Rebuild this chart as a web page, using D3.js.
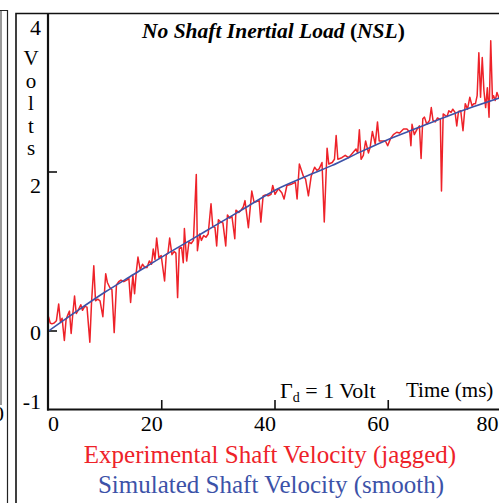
<!DOCTYPE html>
<html>
<head>
<meta charset="utf-8">
<script src="https://cdn.jsdelivr.net/npm/d3@7/dist/d3.min.js"></script>
<style>
html,body{margin:0;padding:0;background:#fff;}
svg{display:block;}
text{font-family:"Liberation Serif","Times New Roman",serif;}
</style>
</head>
<body>
<svg id="chart" width="499" height="503"></svg>
<script>
// ---- data ----
const timeTicks = [0, 20, 40, 60, 80];
const voltTicks = [4, 2, 0, -1];
const voltTickMarks = [2, 0];
const titleMain = "No Shaft Inertial Load ";
const titleAbbr = "NSL";
const yLabelLetters = ["V", "o", "l", "t", "s"];
const legendLines = ["Experimental Shaft Velocity (jagged)", "Simulated Shaft Velocity (smooth)"];

const simTime  = [0, 5, 10, 15, 20, 25, 30, 35, 40, 45, 50, 55, 60, 65, 70, 75, 80];
const simVolts = [0, 0.25, 0.49, 0.71, 0.93, 1.14, 1.35, 1.56, 1.77, 1.93, 2.08, 2.25, 2.41, 2.55, 2.69, 2.82, 2.94];

const expTime = [
0.0,0.3,0.6,1.0,1.4,1.8,2.1,2.4,2.8,3.1,3.4,3.7,4.0,4.3,4.6,4.9,5.3,5.7,6.0,6.4,6.8,7.3,7.6,8.0,8.3,8.7,9.1,9.6,
10.1,10.4,10.8,11.2,11.6,12.0,12.4,12.8,13.3,13.8,14.2,14.5,14.9,15.2,15.5,15.8,16.2,16.6,17.0,17.4,17.8,18.2,18.5,18.8,19.1,19.5,19.9,
20.5,20.8,21.1,21.4,21.8,22.2,22.5,22.8,23.1,23.5,23.8,24.0,24.4,24.8,25.2,25.6,26.1,26.3,26.7,27.0,27.4,27.8,28.2,28.7,29.0,29.4,29.7,
30.0,30.4,30.8,31.3,31.6,32.0,32.4,32.9,33.1,33.6,34.0,34.4,34.7,35.3,35.9,36.3,36.8,37.2,37.5,37.9,38.3,38.8,39.3,39.6,
40.0,40.6,41.2,41.6,42.1,43.0,43.6,43.9,44.3,45.0,45.4,45.9,46.4,47.0,47.4,47.8,48.3,48.7,49.2,49.5,
50.1,50.5,50.8,51.1,51.8,52.4,53.0,53.6,54.3,54.6,54.9,55.2,55.6,56.0,56.5,56.8,57.2,57.7,58.1,58.4,58.9,59.5,59.9,
60.4,60.9,61.5,62.0,62.7,63.3,63.8,64.0,64.2,64.6,65.1,65.5,65.8,66.1,66.4,66.8,67.3,67.6,67.9,68.3,68.7,69.2,69.4,69.7,
70.1,70.4,70.7,71.1,71.4,71.8,72.1,72.4,72.8,73.2,73.6,74.0,74.4,74.8,75.1,75.4,75.7,76.0,76.3,76.6,76.9,77.2,77.5,77.8,78.1,78.4,78.6,78.9,79.2,79.6
];
const expVolts = [
0.18,0.10,0.09,0.10,0.13,0.34,0.12,0.16,-0.12,0.14,0.20,0.25,-0.03,0.22,0.44,0.22,0.27,0.33,0.26,0.31,0.30,-0.14,0.36,0.82,0.38,0.40,0.38,0.18,
0.72,0.61,0.55,0.52,-0.02,0.58,0.62,0.64,0.62,0.64,0.66,0.36,0.70,0.47,0.74,0.93,0.77,0.84,0.80,0.80,0.88,0.84,1.03,0.90,1.17,0.92,0.95,
0.63,0.96,0.98,1.17,0.96,1.00,0.98,0.42,1.04,1.05,0.86,1.29,0.88,1.12,1.10,1.14,1.97,1.01,1.22,1.14,1.20,1.18,1.22,1.60,1.32,1.30,1.07,
1.40,1.37,1.36,1.07,1.46,1.42,1.44,1.16,1.52,1.49,1.52,1.56,1.64,1.30,1.76,1.62,1.63,1.64,1.37,1.70,1.71,1.70,1.72,1.83,
1.72,1.79,1.74,1.66,1.83,1.85,1.87,1.66,2.10,1.95,1.91,1.70,1.95,2.06,2.02,2.04,2.12,1.37,2.30,2.10,
2.12,2.16,2.46,2.16,2.18,2.21,2.18,2.23,2.29,2.24,2.53,2.16,2.21,2.39,2.24,2.31,2.51,2.35,2.63,2.39,2.39,2.39,2.33,
2.42,2.47,2.50,2.49,2.54,2.54,2.50,2.33,2.60,2.47,2.54,2.58,2.17,2.67,2.69,2.60,2.65,2.81,2.65,2.63,2.68,2.66,1.76,2.73,
2.71,2.70,2.77,2.75,2.79,2.75,2.58,2.76,2.77,2.52,2.86,2.79,2.94,2.83,2.86,2.86,2.96,3.50,2.94,3.44,3.02,2.81,3.06,2.69,3.65,2.92,2.96,2.90,3.00,2.92
];

// ---- drawing ----
const svg = d3.select("#chart");
const x = d3.scaleLinear().domain([0, 80]).range([48.5, 501.5]);
const y = d3.scaleLinear().domain([-1, 4]).range([410.5, 13]);
const RED = "#ee2229", BLUE = "#3c52a8";

// neighbouring-panel remnants and frame
svg.append("line").attr("x1", 1).attr("x2", 1).attr("y1", 10).attr("y2", 405).attr("stroke", "#555").attr("stroke-width", 1.2);
svg.append("path").attr("d", "M0,10.5H7.5V503").attr("fill", "none").attr("stroke", "#222").attr("stroke-width", 1.2);
svg.append("text").attr("x", -7).attr("y", 421).attr("font-size", 22).text("0");
svg.append("path").attr("d", "M16,503V13.5H499").attr("fill", "none").attr("stroke", "#111").attr("stroke-width", 1.6);

// axes lines
svg.append("line").attr("x1", 48).attr("x2", 48).attr("y1", 14).attr("y2", 410.5).attr("stroke", "#111").attr("stroke-width", 2.2);
svg.append("line").attr("x1", 47).attr("x2", 499).attr("y1", 409.5).attr("y2", 409.5).attr("stroke", "#111").attr("stroke-width", 2.2);

// x ticks (inside, pointing up)
svg.selectAll(".xt").data(timeTicks.filter(d => d > 0 && d < 80)).enter().append("line")
  .attr("x1", d => x(d)).attr("x2", d => x(d)).attr("y1", 409).attr("y2", 400)
  .attr("stroke", "#111").attr("stroke-width", 1.6);
svg.selectAll(".xl").data(timeTicks).enter().append("text")
  .attr("x", d => d === 0 ? x(d) - 0.5 : Math.min(x(d) + 1, 498.5))
  .attr("y", 431).attr("font-size", 22)
  .attr("text-anchor", d => d === 0 ? "start" : "end")
  .text(d => d);

// y ticks (inside, pointing right)
svg.selectAll(".yt").data(voltTickMarks).enter().append("line")
  .attr("x1", 48).attr("x2", 57).attr("y1", d => y(d)).attr("y2", d => y(d))
  .attr("stroke", "#111").attr("stroke-width", 1.6);
const yLabDy = {"4": 22, "2": 21, "0": 9, "-1": -2};
svg.selectAll(".yl").data(voltTicks).enter().append("text")
  .attr("x", 41).attr("y", d => y(d) + yLabDy[d]).attr("font-size", 22)
  .attr("text-anchor", "end").text(d => d);

// vertical "Volts"
svg.selectAll(".vl").data(yLabelLetters).enter().append("text")
  .attr("x", 31).attr("y", (d, i) => 65 + i * 22.5).attr("font-size", 21)
  .attr("text-anchor", "middle").text(d => d);

// data lines
const clip = svg.append("clipPath").attr("id", "clip").append("rect")
  .attr("x", 49).attr("y", 14).attr("width", 450).attr("height", 395);
const expData = expTime.map((t, i) => [t, expVolts[i]]);
const simData = simTime.map((t, i) => [t, simVolts[i]]);
const line = d3.line().x(d => x(d[0])).y(d => y(d[1]));
svg.append("path").datum(expData).attr("d", line).attr("fill", "none")
  .attr("stroke", RED).attr("stroke-width", 1.5).attr("stroke-linejoin", "round")
  .attr("clip-path", "url(#clip)");
svg.append("path").datum(simData).attr("d", d3.line().curve(d3.curveMonotoneX).x(d => x(d[0])).y(d => y(d[1])))
  .attr("fill", "none").attr("stroke", BLUE).attr("stroke-width", 1.6)
  .attr("clip-path", "url(#clip)");

// title
const title = svg.append("text").attr("x", 142).attr("y", 38).attr("font-size", 21.5)
  .attr("font-weight", "bold").attr("font-style", "italic");
title.append("tspan").text(titleMain);
title.append("tspan").attr("font-style", "normal").text("(");
title.append("tspan").text(titleAbbr);
title.append("tspan").attr("font-style", "normal").text(")");

// annotations
const g = svg.append("text").attr("x", 280).attr("y", 398).attr("font-size", 22);
g.append("tspan").text("Γ");
g.append("tspan").attr("font-size", 14).attr("dy", 4).text("d");
g.append("tspan").attr("dy", -4).text(" = 1 Volt");
svg.append("text").attr("x", 406).attr("y", 397).attr("font-size", 21).text("Time (ms)");

// legend lines
svg.append("text").attr("x", 270).attr("y", 463).attr("font-size", 25)
  .attr("text-anchor", "middle").attr("fill", RED).text(legendLines[0]);
svg.append("text").attr("x", 271).attr("y", 493).attr("font-size", 25)
  .attr("text-anchor", "middle").attr("fill", BLUE).text(legendLines[1]);
</script>
</body>
</html>
